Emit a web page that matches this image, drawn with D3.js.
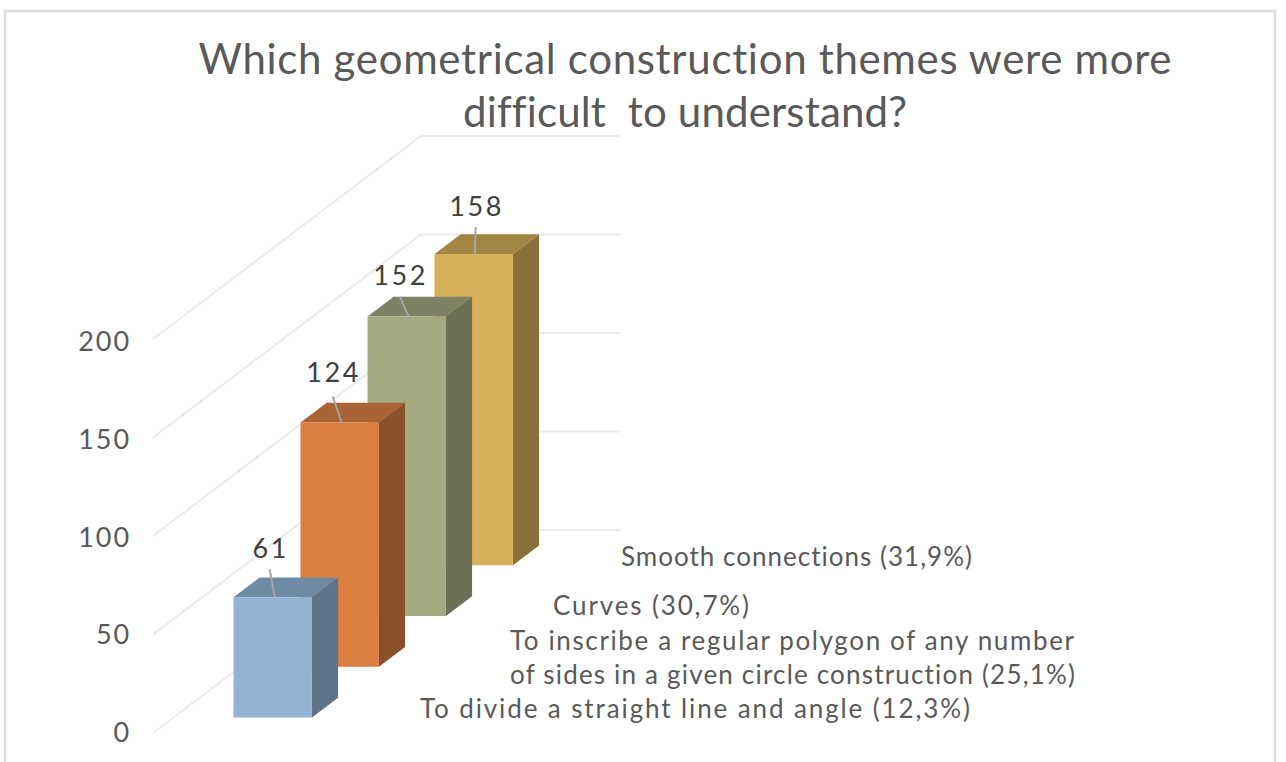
<!DOCTYPE html>
<html lang="en">
<head>
<meta charset="utf-8">
<title>Geometrical construction themes</title>
<script src="https://cdn.jsdelivr.net/npm/d3@7"></script>
<style>
html, body { margin: 0; padding: 0; background: #fff; }
svg { display: block; }
text { font-family: Lato, "Open Sans", sans-serif; font-variant-ligatures: none; }
</style>
</head>
<body>
<div id="chart"></div>
<script>
// data, front bar first
var categories = ["divide", "inscribe", "curves", "smooth"];
var values = [61, 124, 152, 158];
var ticks = [0, 50, 100, 150, 200];
var titleLines = ["Which geometrical construction themes were more", "difficult  to understand?"];
var categoryLines = [
	"To divide a straight line and angle (12,3%)",
	"To inscribe a regular polygon of any number",
	"of sides in a given circle construction (25,1%)",
	"Curves (30,7%)",
	"Smooth connections (31,9%)"
];
var faceColors = ["#92B4D2", "#DC7E42", "#A5A97F", "#D6B05B"];
var topColors = ["#6F8BA4", "#A96334", "#7E8262", "#A38643"];
var sideColors = ["#5E7387", "#8B512B", "#6B6F53", "#877138"];

var w = 1286, h = 762;

var svg = d3.select("#chart").append("svg")
	.attr("width", w)
	.attr("height", h);

// frame, open at the bottom
svg.append("path")
	.attr("d", "M5,762V11H1275V762")
	.attr("fill", "none")
	.attr("stroke", "#DDDDDD")
	.attr("stroke-width", 2.5);

// oblique projection: across, value, depth (0 front, 1 back)
var across = d3.scaleLinear().domain([0, 1]).range([0, 199]);
var up = d3.scaleLinear().domain([0, 200]).range([0, 394]);
var depthX = d3.scaleLinear().domain([0, 1]).range([153, 421]);
var depthY = d3.scaleLinear().domain([0, 1]).range([733, 530]);
var depth = d3.scaleBand().domain(categories).range([0, 1])
	.paddingInner(0.61).paddingOuter(0.305);

function project(a, v, d) {
	return [depthX(d) + across(a), depthY(d) - up(v)];
}

var line = d3.line();

// walls
svg.append("g").selectAll("path")
	.data(ticks)
	.enter()
	.append("path")
	.attr("d", function(t) {
		return line([project(0, t, 0), project(0, t, 1), project(1, t, 1)]);
	})
	.attr("fill", "none")
	.attr("stroke", "#EAEAEA")
	.attr("stroke-width", 2);

// value axis
var axisScale = d3.scaleLinear().domain([0, 200]).range([0, -391]);
var axis = svg.append("g")
	.attr("transform", "translate(137,733)")
	.call(d3.axisLeft(axisScale).tickValues(ticks).tickSize(0).tickPadding(6));
axis.select(".domain").remove();
axis.selectAll("text")
	.attr("font-size", 27)
	.attr("fill", "#595959")
	.style("letter-spacing", "1.9px")
	.style("font-family", "Lato, sans-serif");

// bars back to front
var barA = 0.302, barW = 0.394;
var order = d3.range(categories.length).reverse();

var bars = svg.append("g").selectAll("g")
	.data(order)
	.enter()
	.append("g");

bars.append("path")
	.attr("fill", function(i) { return sideColors[i]; })
	.attr("d", function(i) {
		var d0 = depth(categories[i]), d1 = d0 + depth.bandwidth(), a = barA + barW;
		return line([project(a, 0, d0), project(a, 0, d1), project(a, values[i], d1), project(a, values[i], d0)]) + "Z";
	});

bars.append("path")
	.attr("fill", function(i) { return topColors[i]; })
	.attr("d", function(i) {
		var d0 = depth(categories[i]), d1 = d0 + depth.bandwidth(), v = values[i];
		return line([project(barA, v, d0), project(barA, v, d1), project(barA + barW, v, d1), project(barA + barW, v, d0)]) + "Z";
	});

bars.append("path")
	.attr("fill", function(i) { return faceColors[i]; })
	.attr("d", function(i) {
		var d0 = depth(categories[i]), v = values[i];
		return line([project(barA, 0, d0), project(barA + barW, 0, d0), project(barA + barW, v, d0), project(barA, v, d0)]) + "Z";
	});

// value labels with leader lines
var labelShift = [-2, -6, -6, 3];
var leaderShift = [-3, -7, -7, 2];
var leaderEnd = [2, 2, 2, 1];
var leaderGap = [28, 26, 20, 27];
var labelGap = [39, 40, 32, 38];

bars.append("path")
	.attr("fill", "none")
	.attr("stroke", "#A6A6A6")
	.attr("stroke-width", 2)
	.attr("d", function(i) {
		var p = project(barA + barW / 2, values[i], depth(categories[i]));
		return line([[p[0] + leaderShift[i], p[1] - leaderGap[i]], [p[0] + leaderEnd[i], p[1]]]);
	});

bars.append("text")
	.attr("x", function(i) {
		return project(barA + barW / 2, values[i], depth(categories[i]))[0] + labelShift[i];
	})
	.attr("y", function(i) {
		return project(barA + barW / 2, values[i], depth(categories[i]))[1] - labelGap[i];
	})
	.attr("text-anchor", "middle")
	.attr("font-size", 27)
	.attr("fill", "#404040")
	.style("letter-spacing", "2.6px")
	.text(function(i) { return values[i]; });

// category labels sit in front of the floor
var catX = [695, 792, 792.5, 651, 796.5];
var catY = [718, 650, 684, 615, 566];
var catLen = [550, 564, 565, 196, 351];
svg.append("g").selectAll("text")
	.data(categoryLines)
	.enter()
	.append("text")
	.attr("x", function(d, i) { return catX[i]; })
	.attr("y", function(d, i) { return catY[i]; })
	.attr("text-anchor", "middle")
	.attr("font-size", 26)
	.attr("fill", "#595959")
	.attr("textLength", function(d, i) { return catLen[i]; })
	.attr("lengthAdjust", "spacing")
	.text(function(d) { return d; });

// title
var titleLen = [973, 444];
svg.append("g").selectAll("text")
	.data(titleLines)
	.enter()
	.append("text")
	.attr("x", 685)
	.attr("y", function(d, i) { return 74 + i * 53; })
	.attr("text-anchor", "middle")
	.attr("font-size", 42)
	.attr("fill", "#595959")
	.attr("textLength", function(d, i) { return titleLen[i]; })
	.attr("lengthAdjust", "spacing")
	.style("white-space", "pre")
	.text(function(d) { return d; });
</script>
</body>
</html>
